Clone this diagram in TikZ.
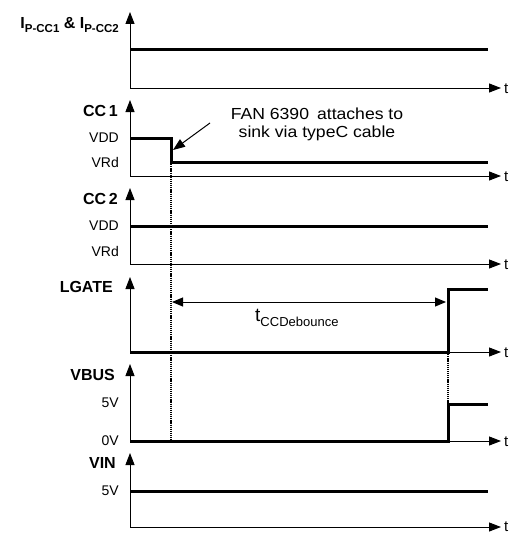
\documentclass[tikz,border=0pt]{standalone}
\usepackage{fontspec}
\setmainfont{Liberation Sans}
\newfontfamily\annfont{Liberation Sans}[FakeStretch=1.1]
\usetikzlibrary{arrows.meta}
\newcommand\lowsub[2]{\raisebox{-#1}{#2}}
\begin{document}
\begin{tikzpicture}[x=1pt,y=-1pt,
  axis/.style={line width=1pt,-{Triangle[length=12pt,width=9pt]}},
  sig/.style={line width=3pt,line join=miter},
  dots/.style={line width=2.2pt,dash pattern=on 1.2pt off 0.9pt},
  dotsthin/.style={line width=1.5pt,dash pattern=on 1.2pt off 0.9pt},
  vlbl/.style={anchor=east,inner sep=0pt,font=\fontsize{14}{16}\selectfont},
  nlbl/.style={anchor=east,inner sep=0pt,font=\bfseries\fontsize{16}{18}\selectfont},
  tlbl/.style={anchor=west,inner sep=0pt,font=\fontsize{15}{17}\selectfont}]
\useasboundingbox (0,0) rectangle (511,535);

% ---------- panel 1: I_P-CC1 & I_P-CC2
\coordinate (o1) at (130,88);
\coordinate (y1) at (130,12);
\coordinate (x1) at (501,88);
\draw[axis] (o1) -- (y1);
\draw[axis] (o1) -- (x1);
\node[tlbl] (t1) at (504,89) {t};
\node[nlbl] (n1) at (119,25) {I\lowsub{3.5pt}{\fontsize{11.5}{12}\selectfont P-CC1} \& I\lowsub{3.5pt}{\fontsize{11.5}{12}\selectfont P-CC2}};
\coordinate (s1a) at (130,50);
\coordinate (s1b) at (488,50);
\draw[sig] (s1a) -- (s1b);

% ---------- panel 2: CC1
\coordinate (o2) at (130,176);
\coordinate (y2) at (130,100);
\coordinate (x2) at (501,176);
\draw[axis] (o2) -- (y2);
\draw[axis] (o2) -- (x2);
\node[tlbl] (t2) at (504,177) {t};
\node[nlbl] (n2) at (118,111) {CC\,1};
\node[vlbl] (v2a) at (119,138) {VDD};
\node[vlbl] (v2b) at (119,162) {VRd};
\coordinate (s2a) at (130,138);
\coordinate (s2b) at (171,138);
\coordinate (s2c) at (171,162);
\coordinate (s2d) at (488,162);
\draw[sig] (s2a) -- (s2b) -- (s2c) -- (s2d);

% annotation
\node[font=\annfont\fontsize{16}{18}\selectfont,align=center,inner sep=0pt] (ann) at (317,124) {FAN 6390\enspace attaches to\\sink via typeC cable};
\coordinate (ann0) at (210,123);
\coordinate (anntip) at (173,150);
\draw[line width=1pt,-{Triangle[length=12pt,width=9pt]}] (ann0) -- (anntip);

% ---------- panel 3: CC2
\coordinate (o3) at (130,264);
\coordinate (y3) at (130,188);
\coordinate (x3) at (501,264);
\draw[axis] (o3) -- (y3);
\draw[axis] (o3) -- (x3);
\node[tlbl] (t3) at (504,265) {t};
\node[nlbl] (n3) at (118,199) {CC\,2};
\node[vlbl] (v3a) at (119,226) {VDD};
\node[vlbl] (v3b) at (119,251) {VRd};
\coordinate (s3a) at (130,226);
\coordinate (s3b) at (488,226);
\draw[sig] (s3a) -- (s3b);

% ---------- panel 4: LGATE
\coordinate (o4) at (130,352);
\coordinate (y4) at (130,277);
\coordinate (x4) at (501,352);
\draw[axis] (o4) -- (y4);
\draw[axis] (o4) -- (x4);
\node[tlbl] (t4) at (504,353) {t};
\node[nlbl] (n4) at (113,287) {LGATE};
\coordinate (s4a) at (130,352);
\coordinate (s4b) at (448,352);
\coordinate (s4c) at (448,289);
\coordinate (s4d) at (488,289);
\draw[sig] (s4a) -- (s4b) -- (s4c) -- (s4d);
\coordinate (d4a) at (172,302);
\coordinate (d4b) at (446,302);
\draw[line width=1pt,{Triangle[length=11pt,width=9pt]}-{Triangle[length=11pt,width=9pt]}] (d4a) -- (d4b);
\node[inner sep=0pt,anchor=west] (deb) at (255,318) {\fontsize{19}{20}\selectfont t\lowsub{5pt}{\fontsize{13}{14}\selectfont CCDebounce}};

% ---------- panel 5: VBUS
\coordinate (o5) at (130,441);
\coordinate (y5) at (130,364);
\coordinate (x5) at (501,441);
\draw[axis] (o5) -- (y5);
\draw[axis] (o5) -- (x5);
\node[tlbl] (t5) at (504,442) {t};
\node[nlbl] (n5) at (115,375) {VBUS};
\node[vlbl] (v5a) at (119,403) {5V};
\node[vlbl] (v5b) at (119,441) {0V};
\coordinate (s5a) at (130,441);
\coordinate (s5b) at (448,441);
\coordinate (s5c) at (448,404);
\coordinate (s5d) at (488,404);
\draw[sig] (s5a) -- (s5b) -- (s5c) -- (s5d);

% ---------- panel 6: VIN
\coordinate (o6) at (130,527);
\coordinate (y6) at (130,453);
\coordinate (x6) at (501,527);
\draw[axis] (o6) -- (y6);
\draw[axis] (o6) -- (x6);
\node[tlbl] (t6) at (504,527) {t};
\node[nlbl] (n6) at (116,463) {VIN};
\node[vlbl] (v6a) at (119,491) {5V};
\coordinate (s6a) at (130,491);
\coordinate (s6b) at (488,491);
\draw[sig] (s6a) -- (s6b);

% ---------- dotted guides
\draw[dots] (s2c) -- (171,441);
\draw[dotsthin] (s4b) -- (s5c);
\end{tikzpicture}
\end{document}
